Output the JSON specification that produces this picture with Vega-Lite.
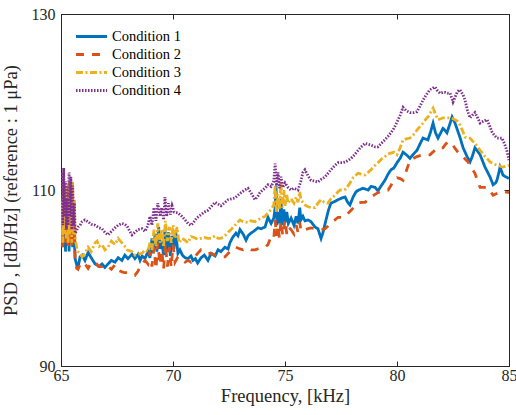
{
"$schema":"https://vega.github.io/schema/vega-lite/v6.json",
"width":448,"height":352,
"autosize":{"type":"none"},
"padding":{"left":61,"top":14,"right":7,"bottom":49},
"background":"white",
"config":{"view":{"stroke":"#262626","strokeWidth":1},"font":"Liberation Serif",
"legend":{"labelFont":"Liberation Serif"},
"axis":{"grid":false,"domainColor":"#262626","tickColor":"#262626","labelColor":"#262626","titleColor":"#262626","labelFont":"Liberation Serif","titleFont":"Liberation Serif","labelFontSize":16,"titleFontSize":18.5,"titleFontWeight":"normal","tickSize":-5,"tickWidth":1}},
"datasets":{"psd":[
{"f":65.00,"v":107.5,"c":"Condition 1"},{"f":65.04,"v":103.5,"c":"Condition 1"},{"f":65.08,"v":109.5,"c":"Condition 1"},{"f":65.12,"v":104,"c":"Condition 1"},{"f":65.16,"v":110,"c":"Condition 1"},{"f":65.20,"v":103,"c":"Condition 1"},{"f":65.24,"v":108,"c":"Condition 1"},{"f":65.28,"v":104.5,"c":"Condition 1"},{"f":65.32,"v":110.5,"c":"Condition 1"},{"f":65.36,"v":103,"c":"Condition 1"},{"f":65.40,"v":109.5,"c":"Condition 1"},{"f":65.44,"v":104,"c":"Condition 1"},{"f":65.48,"v":110.5,"c":"Condition 1"},{"f":65.52,"v":103.5,"c":"Condition 1"},{"f":65.56,"v":108,"c":"Condition 1"},{"f":65.60,"v":104,"c":"Condition 1"},{"f":65.63,"v":102.2,"c":"Condition 1"},{"f":65.70,"v":101.5,"c":"Condition 1"},{"f":65.76,"v":101.2,"c":"Condition 1"},{"f":65.85,"v":102.4,"c":"Condition 1"},{"f":65.94,"v":102.6,"c":"Condition 1"},{"f":66.07,"v":102.0,"c":"Condition 1"},{"f":66.21,"v":102.9,"c":"Condition 1"},{"f":66.35,"v":102.3,"c":"Condition 1"},{"f":66.52,"v":101.6,"c":"Condition 1"},{"f":66.70,"v":101.3,"c":"Condition 1"},{"f":66.83,"v":101.6,"c":"Condition 1"},{"f":66.96,"v":101.2,"c":"Condition 1"},{"f":67.10,"v":101.6,"c":"Condition 1"},{"f":67.25,"v":102.0,"c":"Condition 1"},{"f":67.41,"v":101.8,"c":"Condition 1"},{"f":67.55,"v":102.3,"c":"Condition 1"},{"f":67.72,"v":102.0,"c":"Condition 1"},{"f":67.85,"v":102.6,"c":"Condition 1"},{"f":67.99,"v":102.2,"c":"Condition 1"},{"f":68.17,"v":102.7,"c":"Condition 1"},{"f":68.30,"v":102.2,"c":"Condition 1"},{"f":68.44,"v":102.7,"c":"Condition 1"},{"f":68.53,"v":102.0,"c":"Condition 1"},{"f":68.62,"v":102.5,"c":"Condition 1"},{"f":68.75,"v":102.2,"c":"Condition 1"},{"f":68.88,"v":103.0,"c":"Condition 1"},{"f":68.97,"v":102.3,"c":"Condition 1"},{"f":69.06,"v":104.5,"c":"Condition 1"},{"f":69.11,"v":102.8,"c":"Condition 1"},{"f":69.20,"v":105.0,"c":"Condition 1"},{"f":69.28,"v":103.0,"c":"Condition 1"},{"f":69.36,"v":105.8,"c":"Condition 1"},{"f":69.42,"v":103.3,"c":"Condition 1"},{"f":69.50,"v":104.2,"c":"Condition 1"},{"f":69.58,"v":102.6,"c":"Condition 1"},{"f":69.64,"v":105.5,"c":"Condition 1"},{"f":69.72,"v":103.0,"c":"Condition 1"},{"f":69.80,"v":105.2,"c":"Condition 1"},{"f":69.88,"v":102.5,"c":"Condition 1"},{"f":69.96,"v":104.8,"c":"Condition 1"},{"f":70.04,"v":103.3,"c":"Condition 1"},{"f":70.12,"v":105.3,"c":"Condition 1"},{"f":70.22,"v":102.8,"c":"Condition 1"},{"f":70.31,"v":103.2,"c":"Condition 1"},{"f":70.42,"v":102.6,"c":"Condition 1"},{"f":70.54,"v":102.3,"c":"Condition 1"},{"f":70.67,"v":102.2,"c":"Condition 1"},{"f":70.80,"v":102.5,"c":"Condition 1"},{"f":70.89,"v":102.0,"c":"Condition 1"},{"f":71.00,"v":102.2,"c":"Condition 1"},{"f":71.10,"v":101.7,"c":"Condition 1"},{"f":71.25,"v":102.3,"c":"Condition 1"},{"f":71.40,"v":102.6,"c":"Condition 1"},{"f":71.56,"v":102.0,"c":"Condition 1"},{"f":71.70,"v":102.8,"c":"Condition 1"},{"f":71.88,"v":102.5,"c":"Condition 1"},{"f":72.01,"v":103.2,"c":"Condition 1"},{"f":72.14,"v":103.0,"c":"Condition 1"},{"f":72.32,"v":103.5,"c":"Condition 1"},{"f":72.46,"v":103.3,"c":"Condition 1"},{"f":72.54,"v":104.0,"c":"Condition 1"},{"f":72.66,"v":104.6,"c":"Condition 1"},{"f":72.81,"v":105.1,"c":"Condition 1"},{"f":72.90,"v":104.8,"c":"Condition 1"},{"f":72.99,"v":105.5,"c":"Condition 1"},{"f":73.13,"v":105.0,"c":"Condition 1"},{"f":73.26,"v":104.3,"c":"Condition 1"},{"f":73.35,"v":104.8,"c":"Condition 1"},{"f":73.48,"v":105.1,"c":"Condition 1"},{"f":73.60,"v":105.3,"c":"Condition 1"},{"f":73.79,"v":105.7,"c":"Condition 1"},{"f":73.93,"v":105.6,"c":"Condition 1"},{"f":74.11,"v":105.8,"c":"Condition 1"},{"f":74.24,"v":106.9,"c":"Condition 1"},{"f":74.38,"v":106.2,"c":"Condition 1"},{"f":74.50,"v":106.8,"c":"Condition 1"},{"f":74.56,"v":108.0,"c":"Condition 1"},{"f":74.60,"v":110.5,"c":"Condition 1"},{"f":74.64,"v":106.0,"c":"Condition 1"},{"f":74.69,"v":107.5,"c":"Condition 1"},{"f":74.75,"v":106.2,"c":"Condition 1"},{"f":74.82,"v":109.0,"c":"Condition 1"},{"f":74.88,"v":106.0,"c":"Condition 1"},{"f":74.95,"v":107.8,"c":"Condition 1"},{"f":75.00,"v":106.3,"c":"Condition 1"},{"f":75.08,"v":107.5,"c":"Condition 1"},{"f":75.15,"v":106.2,"c":"Condition 1"},{"f":75.27,"v":106.8,"c":"Condition 1"},{"f":75.40,"v":106.0,"c":"Condition 1"},{"f":75.50,"v":107.0,"c":"Condition 1"},{"f":75.58,"v":106.2,"c":"Condition 1"},{"f":75.66,"v":108.0,"c":"Condition 1"},{"f":75.71,"v":106.6,"c":"Condition 1"},{"f":75.80,"v":107.0,"c":"Condition 1"},{"f":75.89,"v":106.5,"c":"Condition 1"},{"f":76.03,"v":106.6,"c":"Condition 1"},{"f":76.16,"v":106.4,"c":"Condition 1"},{"f":76.34,"v":105.8,"c":"Condition 1"},{"f":76.47,"v":105.6,"c":"Condition 1"},{"f":76.61,"v":104.5,"c":"Condition 1"},{"f":76.70,"v":105.2,"c":"Condition 1"},{"f":76.83,"v":106.6,"c":"Condition 1"},{"f":76.95,"v":107.8,"c":"Condition 1"},{"f":77.05,"v":108.5,"c":"Condition 1"},{"f":77.23,"v":108.7,"c":"Condition 1"},{"f":77.37,"v":108.9,"c":"Condition 1"},{"f":77.55,"v":109.1,"c":"Condition 1"},{"f":77.68,"v":109.2,"c":"Condition 1"},{"f":77.80,"v":108.6,"c":"Condition 1"},{"f":77.90,"v":108.3,"c":"Condition 1"},{"f":78.04,"v":109.2,"c":"Condition 1"},{"f":78.17,"v":109.8,"c":"Condition 1"},{"f":78.30,"v":110.0,"c":"Condition 1"},{"f":78.48,"v":110.2,"c":"Condition 1"},{"f":78.60,"v":110.1,"c":"Condition 1"},{"f":78.71,"v":110.0,"c":"Condition 1"},{"f":78.84,"v":110.4,"c":"Condition 1"},{"f":79.02,"v":110.3,"c":"Condition 1"},{"f":79.15,"v":109.9,"c":"Condition 1"},{"f":79.30,"v":110.5,"c":"Condition 1"},{"f":79.46,"v":111.1,"c":"Condition 1"},{"f":79.60,"v":111.8,"c":"Condition 1"},{"f":79.73,"v":112.3,"c":"Condition 1"},{"f":79.86,"v":112.5,"c":"Condition 1"},{"f":80.00,"v":113.1,"c":"Condition 1"},{"f":80.14,"v":113.6,"c":"Condition 1"},{"f":80.27,"v":114.3,"c":"Condition 1"},{"f":80.42,"v":114.0,"c":"Condition 1"},{"f":80.58,"v":113.6,"c":"Condition 1"},{"f":80.74,"v":114.1,"c":"Condition 1"},{"f":80.89,"v":114.5,"c":"Condition 1"},{"f":81.02,"v":115.2,"c":"Condition 1"},{"f":81.16,"v":115.9,"c":"Condition 1"},{"f":81.27,"v":115.8,"c":"Condition 1"},{"f":81.38,"v":115.7,"c":"Condition 1"},{"f":81.50,"v":116.6,"c":"Condition 1"},{"f":81.61,"v":117.6,"c":"Condition 1"},{"f":81.72,"v":116.5,"c":"Condition 1"},{"f":81.83,"v":115.9,"c":"Condition 1"},{"f":81.95,"v":116.5,"c":"Condition 1"},{"f":82.05,"v":117.0,"c":"Condition 1"},{"f":82.14,"v":116.8,"c":"Condition 1"},{"f":82.23,"v":116.5,"c":"Condition 1"},{"f":82.36,"v":117.5,"c":"Condition 1"},{"f":82.46,"v":118.3,"c":"Condition 1"},{"f":82.59,"v":117.6,"c":"Condition 1"},{"f":82.70,"v":116.8,"c":"Condition 1"},{"f":82.81,"v":116.0,"c":"Condition 1"},{"f":82.95,"v":114.8,"c":"Condition 1"},{"f":83.13,"v":113.8,"c":"Condition 1"},{"f":83.26,"v":113.2,"c":"Condition 1"},{"f":83.36,"v":113.8,"c":"Condition 1"},{"f":83.48,"v":114.8,"c":"Condition 1"},{"f":83.60,"v":114.4,"c":"Condition 1"},{"f":83.71,"v":114.0,"c":"Condition 1"},{"f":83.82,"v":113.3,"c":"Condition 1"},{"f":83.93,"v":112.6,"c":"Condition 1"},{"f":84.05,"v":112.0,"c":"Condition 1"},{"f":84.15,"v":111.5,"c":"Condition 1"},{"f":84.29,"v":110.6,"c":"Condition 1"},{"f":84.40,"v":110.8,"c":"Condition 1"},{"f":84.46,"v":111.1,"c":"Condition 1"},{"f":84.53,"v":111.8,"c":"Condition 1"},{"f":84.60,"v":112.6,"c":"Condition 1"},{"f":84.66,"v":112.2,"c":"Condition 1"},{"f":84.73,"v":111.7,"c":"Condition 1"},{"f":84.85,"v":111.5,"c":"Condition 1"},{"f":85.00,"v":111.3,"c":"Condition 1"},
{"f":65.00,"v":104.5,"c":"Condition 2"},{"f":65.04,"v":108,"c":"Condition 2"},{"f":65.08,"v":103.5,"c":"Condition 2"},{"f":65.12,"v":110,"c":"Condition 2"},{"f":65.16,"v":104,"c":"Condition 2"},{"f":65.20,"v":109,"c":"Condition 2"},{"f":65.24,"v":103.8,"c":"Condition 2"},{"f":65.28,"v":107,"c":"Condition 2"},{"f":65.32,"v":103.5,"c":"Condition 2"},{"f":65.36,"v":110,"c":"Condition 2"},{"f":65.40,"v":104.3,"c":"Condition 2"},{"f":65.44,"v":109,"c":"Condition 2"},{"f":65.48,"v":103.5,"c":"Condition 2"},{"f":65.52,"v":109.5,"c":"Condition 2"},{"f":65.56,"v":104,"c":"Condition 2"},{"f":65.60,"v":107,"c":"Condition 2"},{"f":65.63,"v":102.0,"c":"Condition 2"},{"f":65.70,"v":101.1,"c":"Condition 2"},{"f":65.76,"v":101.0,"c":"Condition 2"},{"f":65.85,"v":101.5,"c":"Condition 2"},{"f":65.94,"v":101.3,"c":"Condition 2"},{"f":66.07,"v":101.6,"c":"Condition 2"},{"f":66.21,"v":101.1,"c":"Condition 2"},{"f":66.35,"v":101.7,"c":"Condition 2"},{"f":66.52,"v":101.8,"c":"Condition 2"},{"f":66.70,"v":101.3,"c":"Condition 2"},{"f":66.83,"v":101.3,"c":"Condition 2"},{"f":66.96,"v":101.5,"c":"Condition 2"},{"f":67.10,"v":101.3,"c":"Condition 2"},{"f":67.25,"v":101.0,"c":"Condition 2"},{"f":67.41,"v":101.5,"c":"Condition 2"},{"f":67.55,"v":100.9,"c":"Condition 2"},{"f":67.72,"v":100.7,"c":"Condition 2"},{"f":67.85,"v":100.6,"c":"Condition 2"},{"f":67.99,"v":100.6,"c":"Condition 2"},{"f":68.17,"v":100.4,"c":"Condition 2"},{"f":68.30,"v":100.3,"c":"Condition 2"},{"f":68.44,"v":100.8,"c":"Condition 2"},{"f":68.53,"v":101.3,"c":"Condition 2"},{"f":68.62,"v":101.6,"c":"Condition 2"},{"f":68.75,"v":102.0,"c":"Condition 2"},{"f":68.88,"v":101.6,"c":"Condition 2"},{"f":68.97,"v":103.0,"c":"Condition 2"},{"f":69.06,"v":101.3,"c":"Condition 2"},{"f":69.15,"v":103.5,"c":"Condition 2"},{"f":69.24,"v":101.0,"c":"Condition 2"},{"f":69.32,"v":104.0,"c":"Condition 2"},{"f":69.42,"v":101.5,"c":"Condition 2"},{"f":69.50,"v":103.2,"c":"Condition 2"},{"f":69.58,"v":101.0,"c":"Condition 2"},{"f":69.66,"v":104.0,"c":"Condition 2"},{"f":69.75,"v":101.3,"c":"Condition 2"},{"f":69.84,"v":103.5,"c":"Condition 2"},{"f":69.92,"v":101.2,"c":"Condition 2"},{"f":70.00,"v":103.8,"c":"Condition 2"},{"f":70.09,"v":101.8,"c":"Condition 2"},{"f":70.22,"v":102.4,"c":"Condition 2"},{"f":70.40,"v":102.0,"c":"Condition 2"},{"f":70.54,"v":101.8,"c":"Condition 2"},{"f":70.67,"v":102.0,"c":"Condition 2"},{"f":70.80,"v":101.8,"c":"Condition 2"},{"f":70.95,"v":102.3,"c":"Condition 2"},{"f":71.10,"v":102.8,"c":"Condition 2"},{"f":71.25,"v":103.2,"c":"Condition 2"},{"f":71.40,"v":103.0,"c":"Condition 2"},{"f":71.56,"v":102.8,"c":"Condition 2"},{"f":71.70,"v":102.8,"c":"Condition 2"},{"f":71.88,"v":102.6,"c":"Condition 2"},{"f":72.01,"v":102.5,"c":"Condition 2"},{"f":72.14,"v":102.4,"c":"Condition 2"},{"f":72.32,"v":102.4,"c":"Condition 2"},{"f":72.50,"v":102.9,"c":"Condition 2"},{"f":72.66,"v":103.3,"c":"Condition 2"},{"f":72.81,"v":103.5,"c":"Condition 2"},{"f":72.99,"v":103.3,"c":"Condition 2"},{"f":73.13,"v":103.2,"c":"Condition 2"},{"f":73.30,"v":103.4,"c":"Condition 2"},{"f":73.48,"v":103.2,"c":"Condition 2"},{"f":73.66,"v":103.2,"c":"Condition 2"},{"f":73.79,"v":103.3,"c":"Condition 2"},{"f":73.93,"v":103.4,"c":"Condition 2"},{"f":74.11,"v":103.5,"c":"Condition 2"},{"f":74.24,"v":103.8,"c":"Condition 2"},{"f":74.38,"v":104.7,"c":"Condition 2"},{"f":74.50,"v":104.5,"c":"Condition 2"},{"f":74.56,"v":106.6,"c":"Condition 2"},{"f":74.62,"v":104.8,"c":"Condition 2"},{"f":74.69,"v":106.0,"c":"Condition 2"},{"f":74.75,"v":104.5,"c":"Condition 2"},{"f":74.82,"v":106.5,"c":"Condition 2"},{"f":74.90,"v":104.8,"c":"Condition 2"},{"f":75.00,"v":106.6,"c":"Condition 2"},{"f":75.08,"v":105.0,"c":"Condition 2"},{"f":75.15,"v":105.8,"c":"Condition 2"},{"f":75.27,"v":105.5,"c":"Condition 2"},{"f":75.40,"v":105.0,"c":"Condition 2"},{"f":75.50,"v":106.0,"c":"Condition 2"},{"f":75.58,"v":105.2,"c":"Condition 2"},{"f":75.66,"v":106.3,"c":"Condition 2"},{"f":75.71,"v":105.4,"c":"Condition 2"},{"f":75.80,"v":105.6,"c":"Condition 2"},{"f":75.89,"v":105.5,"c":"Condition 2"},{"f":76.03,"v":105.6,"c":"Condition 2"},{"f":76.16,"v":105.7,"c":"Condition 2"},{"f":76.34,"v":105.6,"c":"Condition 2"},{"f":76.47,"v":105.5,"c":"Condition 2"},{"f":76.61,"v":105.5,"c":"Condition 2"},{"f":76.79,"v":105.6,"c":"Condition 2"},{"f":76.92,"v":105.9,"c":"Condition 2"},{"f":77.05,"v":106.3,"c":"Condition 2"},{"f":77.23,"v":106.6,"c":"Condition 2"},{"f":77.37,"v":106.9,"c":"Condition 2"},{"f":77.55,"v":106.9,"c":"Condition 2"},{"f":77.72,"v":107.1,"c":"Condition 2"},{"f":77.95,"v":107.7,"c":"Condition 2"},{"f":78.10,"v":108.1,"c":"Condition 2"},{"f":78.26,"v":108.5,"c":"Condition 2"},{"f":78.40,"v":108.6,"c":"Condition 2"},{"f":78.57,"v":108.6,"c":"Condition 2"},{"f":78.71,"v":108.9,"c":"Condition 2"},{"f":78.84,"v":109.2,"c":"Condition 2"},{"f":79.02,"v":109.5,"c":"Condition 2"},{"f":79.15,"v":109.7,"c":"Condition 2"},{"f":79.30,"v":109.9,"c":"Condition 2"},{"f":79.46,"v":110.0,"c":"Condition 2"},{"f":79.60,"v":110.0,"c":"Condition 2"},{"f":79.73,"v":110.5,"c":"Condition 2"},{"f":79.86,"v":111.2,"c":"Condition 2"},{"f":80.00,"v":111.4,"c":"Condition 2"},{"f":80.14,"v":111.3,"c":"Condition 2"},{"f":80.27,"v":111.1,"c":"Condition 2"},{"f":80.42,"v":112.2,"c":"Condition 2"},{"f":80.58,"v":113.4,"c":"Condition 2"},{"f":80.74,"v":113.6,"c":"Condition 2"},{"f":80.89,"v":113.8,"c":"Condition 2"},{"f":81.02,"v":113.9,"c":"Condition 2"},{"f":81.16,"v":114.0,"c":"Condition 2"},{"f":81.30,"v":114.0,"c":"Condition 2"},{"f":81.47,"v":114.0,"c":"Condition 2"},{"f":81.60,"v":114.3,"c":"Condition 2"},{"f":81.79,"v":114.8,"c":"Condition 2"},{"f":81.95,"v":114.8,"c":"Condition 2"},{"f":82.05,"v":114.8,"c":"Condition 2"},{"f":82.17,"v":115.2,"c":"Condition 2"},{"f":82.28,"v":115.5,"c":"Condition 2"},{"f":82.37,"v":115.3,"c":"Condition 2"},{"f":82.50,"v":115.1,"c":"Condition 2"},{"f":82.60,"v":114.7,"c":"Condition 2"},{"f":82.72,"v":114.3,"c":"Condition 2"},{"f":82.85,"v":114.0,"c":"Condition 2"},{"f":82.95,"v":113.8,"c":"Condition 2"},{"f":83.05,"v":113.5,"c":"Condition 2"},{"f":83.17,"v":113.2,"c":"Condition 2"},{"f":83.30,"v":112.6,"c":"Condition 2"},{"f":83.48,"v":111.9,"c":"Condition 2"},{"f":83.60,"v":111.0,"c":"Condition 2"},{"f":83.71,"v":110.3,"c":"Condition 2"},{"f":83.85,"v":110.3,"c":"Condition 2"},{"f":84.02,"v":110.3,"c":"Condition 2"},{"f":84.15,"v":109.9,"c":"Condition 2"},{"f":84.29,"v":109.4,"c":"Condition 2"},{"f":84.45,"v":109.6,"c":"Condition 2"},{"f":84.60,"v":109.8,"c":"Condition 2"},{"f":84.80,"v":109.8,"c":"Condition 2"},{"f":85.00,"v":109.7,"c":"Condition 2"},
{"f":65.00,"v":106,"c":"Condition 3"},{"f":65.04,"v":109,"c":"Condition 3"},{"f":65.08,"v":104,"c":"Condition 3"},{"f":65.12,"v":111,"c":"Condition 3"},{"f":65.16,"v":105,"c":"Condition 3"},{"f":65.20,"v":110.5,"c":"Condition 3"},{"f":65.24,"v":104.5,"c":"Condition 3"},{"f":65.28,"v":108,"c":"Condition 3"},{"f":65.32,"v":104,"c":"Condition 3"},{"f":65.36,"v":111,"c":"Condition 3"},{"f":65.40,"v":105,"c":"Condition 3"},{"f":65.44,"v":110,"c":"Condition 3"},{"f":65.48,"v":104,"c":"Condition 3"},{"f":65.52,"v":111,"c":"Condition 3"},{"f":65.56,"v":105,"c":"Condition 3"},{"f":65.60,"v":109,"c":"Condition 3"},{"f":65.63,"v":104.5,"c":"Condition 3"},{"f":65.70,"v":103.5,"c":"Condition 3"},{"f":65.76,"v":103.0,"c":"Condition 3"},{"f":65.85,"v":102.8,"c":"Condition 3"},{"f":65.94,"v":102.4,"c":"Condition 3"},{"f":66.07,"v":102.8,"c":"Condition 3"},{"f":66.21,"v":103.5,"c":"Condition 3"},{"f":66.35,"v":103.0,"c":"Condition 3"},{"f":66.52,"v":104.0,"c":"Condition 3"},{"f":66.61,"v":104.2,"c":"Condition 3"},{"f":66.70,"v":103.6,"c":"Condition 3"},{"f":66.83,"v":103.8,"c":"Condition 3"},{"f":66.96,"v":103.2,"c":"Condition 3"},{"f":67.10,"v":103.5,"c":"Condition 3"},{"f":67.25,"v":104.2,"c":"Condition 3"},{"f":67.41,"v":103.8,"c":"Condition 3"},{"f":67.55,"v":104.5,"c":"Condition 3"},{"f":67.72,"v":104.0,"c":"Condition 3"},{"f":67.85,"v":103.6,"c":"Condition 3"},{"f":67.95,"v":103.2,"c":"Condition 3"},{"f":68.17,"v":103.0,"c":"Condition 3"},{"f":68.30,"v":102.6,"c":"Condition 3"},{"f":68.44,"v":102.7,"c":"Condition 3"},{"f":68.62,"v":102.8,"c":"Condition 3"},{"f":68.75,"v":103.2,"c":"Condition 3"},{"f":68.88,"v":103.0,"c":"Condition 3"},{"f":68.97,"v":104.0,"c":"Condition 3"},{"f":69.06,"v":103.2,"c":"Condition 3"},{"f":69.15,"v":105.5,"c":"Condition 3"},{"f":69.24,"v":103.6,"c":"Condition 3"},{"f":69.32,"v":106.2,"c":"Condition 3"},{"f":69.42,"v":104.0,"c":"Condition 3"},{"f":69.50,"v":105.5,"c":"Condition 3"},{"f":69.58,"v":103.5,"c":"Condition 3"},{"f":69.66,"v":106.5,"c":"Condition 3"},{"f":69.75,"v":104.2,"c":"Condition 3"},{"f":69.84,"v":105.8,"c":"Condition 3"},{"f":69.92,"v":104.0,"c":"Condition 3"},{"f":70.00,"v":106.0,"c":"Condition 3"},{"f":70.09,"v":104.5,"c":"Condition 3"},{"f":70.18,"v":105.8,"c":"Condition 3"},{"f":70.27,"v":104.0,"c":"Condition 3"},{"f":70.40,"v":104.5,"c":"Condition 3"},{"f":70.54,"v":104.3,"c":"Condition 3"},{"f":70.67,"v":104.0,"c":"Condition 3"},{"f":70.80,"v":104.7,"c":"Condition 3"},{"f":70.95,"v":104.6,"c":"Condition 3"},{"f":71.10,"v":104.4,"c":"Condition 3"},{"f":71.25,"v":104.5,"c":"Condition 3"},{"f":71.40,"v":104.6,"c":"Condition 3"},{"f":71.56,"v":104.5,"c":"Condition 3"},{"f":71.70,"v":104.5,"c":"Condition 3"},{"f":71.88,"v":104.8,"c":"Condition 3"},{"f":72.01,"v":104.5,"c":"Condition 3"},{"f":72.14,"v":104.5,"c":"Condition 3"},{"f":72.32,"v":104.8,"c":"Condition 3"},{"f":72.46,"v":105.2,"c":"Condition 3"},{"f":72.59,"v":105.5,"c":"Condition 3"},{"f":72.77,"v":106.0,"c":"Condition 3"},{"f":72.99,"v":106.6,"c":"Condition 3"},{"f":73.13,"v":106.4,"c":"Condition 3"},{"f":73.35,"v":106.3,"c":"Condition 3"},{"f":73.48,"v":106.5,"c":"Condition 3"},{"f":73.66,"v":106.4,"c":"Condition 3"},{"f":73.79,"v":106.6,"c":"Condition 3"},{"f":73.93,"v":106.8,"c":"Condition 3"},{"f":74.11,"v":107.0,"c":"Condition 3"},{"f":74.24,"v":107.4,"c":"Condition 3"},{"f":74.38,"v":107.8,"c":"Condition 3"},{"f":74.50,"v":108.3,"c":"Condition 3"},{"f":74.56,"v":110.5,"c":"Condition 3"},{"f":74.62,"v":107.5,"c":"Condition 3"},{"f":74.69,"v":109.5,"c":"Condition 3"},{"f":74.75,"v":107.8,"c":"Condition 3"},{"f":74.82,"v":111.0,"c":"Condition 3"},{"f":74.88,"v":108.0,"c":"Condition 3"},{"f":74.95,"v":110.0,"c":"Condition 3"},{"f":75.00,"v":108.2,"c":"Condition 3"},{"f":75.08,"v":109.5,"c":"Condition 3"},{"f":75.13,"v":108.5,"c":"Condition 3"},{"f":75.27,"v":109.0,"c":"Condition 3"},{"f":75.40,"v":108.5,"c":"Condition 3"},{"f":75.50,"v":109.2,"c":"Condition 3"},{"f":75.58,"v":108.6,"c":"Condition 3"},{"f":75.66,"v":109.8,"c":"Condition 3"},{"f":75.71,"v":108.9,"c":"Condition 3"},{"f":75.80,"v":108.6,"c":"Condition 3"},{"f":75.89,"v":108.3,"c":"Condition 3"},{"f":76.03,"v":108.1,"c":"Condition 3"},{"f":76.16,"v":108.0,"c":"Condition 3"},{"f":76.34,"v":108.0,"c":"Condition 3"},{"f":76.47,"v":108.5,"c":"Condition 3"},{"f":76.61,"v":108.9,"c":"Condition 3"},{"f":76.75,"v":108.6,"c":"Condition 3"},{"f":76.92,"v":108.5,"c":"Condition 3"},{"f":77.05,"v":109.0,"c":"Condition 3"},{"f":77.23,"v":109.4,"c":"Condition 3"},{"f":77.37,"v":109.8,"c":"Condition 3"},{"f":77.46,"v":110.0,"c":"Condition 3"},{"f":77.60,"v":110.0,"c":"Condition 3"},{"f":77.72,"v":110.1,"c":"Condition 3"},{"f":77.90,"v":110.8,"c":"Condition 3"},{"f":78.04,"v":111.4,"c":"Condition 3"},{"f":78.17,"v":111.7,"c":"Condition 3"},{"f":78.26,"v":111.9,"c":"Condition 3"},{"f":78.40,"v":111.8,"c":"Condition 3"},{"f":78.57,"v":111.7,"c":"Condition 3"},{"f":78.71,"v":112.0,"c":"Condition 3"},{"f":78.84,"v":112.3,"c":"Condition 3"},{"f":79.02,"v":112.8,"c":"Condition 3"},{"f":79.15,"v":113.1,"c":"Condition 3"},{"f":79.30,"v":113.5,"c":"Condition 3"},{"f":79.46,"v":113.8,"c":"Condition 3"},{"f":79.60,"v":114.1,"c":"Condition 3"},{"f":79.73,"v":114.2,"c":"Condition 3"},{"f":79.86,"v":114.3,"c":"Condition 3"},{"f":80.00,"v":114.0,"c":"Condition 3"},{"f":80.14,"v":114.8,"c":"Condition 3"},{"f":80.27,"v":115.7,"c":"Condition 3"},{"f":80.42,"v":115.8,"c":"Condition 3"},{"f":80.58,"v":115.9,"c":"Condition 3"},{"f":80.74,"v":116.3,"c":"Condition 3"},{"f":80.89,"v":116.8,"c":"Condition 3"},{"f":81.02,"v":117.2,"c":"Condition 3"},{"f":81.16,"v":117.6,"c":"Condition 3"},{"f":81.27,"v":118.0,"c":"Condition 3"},{"f":81.38,"v":118.3,"c":"Condition 3"},{"f":81.50,"v":118.8,"c":"Condition 3"},{"f":81.61,"v":119.3,"c":"Condition 3"},{"f":81.72,"v":118.6,"c":"Condition 3"},{"f":81.83,"v":118.0,"c":"Condition 3"},{"f":81.95,"v":118.1,"c":"Condition 3"},{"f":82.05,"v":118.2,"c":"Condition 3"},{"f":82.20,"v":118.2,"c":"Condition 3"},{"f":82.37,"v":118.2,"c":"Condition 3"},{"f":82.50,"v":118.1,"c":"Condition 3"},{"f":82.59,"v":118.0,"c":"Condition 3"},{"f":82.70,"v":117.8,"c":"Condition 3"},{"f":82.81,"v":117.4,"c":"Condition 3"},{"f":82.95,"v":116.6,"c":"Condition 3"},{"f":83.04,"v":116.0,"c":"Condition 3"},{"f":83.15,"v":115.9,"c":"Condition 3"},{"f":83.26,"v":115.9,"c":"Condition 3"},{"f":83.36,"v":115.6,"c":"Condition 3"},{"f":83.48,"v":115.3,"c":"Condition 3"},{"f":83.60,"v":114.9,"c":"Condition 3"},{"f":83.71,"v":114.5,"c":"Condition 3"},{"f":83.82,"v":114.2,"c":"Condition 3"},{"f":83.93,"v":113.8,"c":"Condition 3"},{"f":84.05,"v":113.5,"c":"Condition 3"},{"f":84.15,"v":113.2,"c":"Condition 3"},{"f":84.30,"v":113.0,"c":"Condition 3"},{"f":84.46,"v":112.8,"c":"Condition 3"},{"f":84.60,"v":112.7,"c":"Condition 3"},{"f":84.73,"v":112.6,"c":"Condition 3"},{"f":84.85,"v":112.7,"c":"Condition 3"},{"f":85.00,"v":112.8,"c":"Condition 3"},
{"f":65.00,"v":109,"c":"Condition 4"},{"f":65.04,"v":112,"c":"Condition 4"},{"f":65.08,"v":106,"c":"Condition 4"},{"f":65.12,"v":112.5,"c":"Condition 4"},{"f":65.16,"v":107,"c":"Condition 4"},{"f":65.20,"v":111,"c":"Condition 4"},{"f":65.24,"v":105.5,"c":"Condition 4"},{"f":65.28,"v":109,"c":"Condition 4"},{"f":65.32,"v":106,"c":"Condition 4"},{"f":65.36,"v":112,"c":"Condition 4"},{"f":65.40,"v":107,"c":"Condition 4"},{"f":65.44,"v":111.5,"c":"Condition 4"},{"f":65.48,"v":105.5,"c":"Condition 4"},{"f":65.52,"v":110.5,"c":"Condition 4"},{"f":65.56,"v":106,"c":"Condition 4"},{"f":65.60,"v":108.5,"c":"Condition 4"},{"f":65.63,"v":105.1,"c":"Condition 4"},{"f":65.70,"v":105.4,"c":"Condition 4"},{"f":65.76,"v":105.8,"c":"Condition 4"},{"f":65.85,"v":106.0,"c":"Condition 4"},{"f":65.94,"v":106.4,"c":"Condition 4"},{"f":66.07,"v":106.6,"c":"Condition 4"},{"f":66.21,"v":106.4,"c":"Condition 4"},{"f":66.35,"v":106.1,"c":"Condition 4"},{"f":66.52,"v":106.0,"c":"Condition 4"},{"f":66.70,"v":105.7,"c":"Condition 4"},{"f":66.83,"v":105.6,"c":"Condition 4"},{"f":66.96,"v":105.2,"c":"Condition 4"},{"f":67.10,"v":104.9,"c":"Condition 4"},{"f":67.25,"v":105.3,"c":"Condition 4"},{"f":67.41,"v":105.7,"c":"Condition 4"},{"f":67.55,"v":106.0,"c":"Condition 4"},{"f":67.72,"v":106.2,"c":"Condition 4"},{"f":67.85,"v":106.1,"c":"Condition 4"},{"f":67.95,"v":105.9,"c":"Condition 4"},{"f":68.05,"v":105.4,"c":"Condition 4"},{"f":68.17,"v":104.9,"c":"Condition 4"},{"f":68.30,"v":105.2,"c":"Condition 4"},{"f":68.44,"v":105.5,"c":"Condition 4"},{"f":68.62,"v":105.6,"c":"Condition 4"},{"f":68.75,"v":105.3,"c":"Condition 4"},{"f":68.88,"v":106.0,"c":"Condition 4"},{"f":68.97,"v":107.0,"c":"Condition 4"},{"f":69.06,"v":106.0,"c":"Condition 4"},{"f":69.15,"v":108.0,"c":"Condition 4"},{"f":69.24,"v":106.5,"c":"Condition 4"},{"f":69.32,"v":108.5,"c":"Condition 4"},{"f":69.42,"v":107.0,"c":"Condition 4"},{"f":69.50,"v":108.0,"c":"Condition 4"},{"f":69.58,"v":106.6,"c":"Condition 4"},{"f":69.64,"v":109.2,"c":"Condition 4"},{"f":69.72,"v":107.0,"c":"Condition 4"},{"f":69.80,"v":108.5,"c":"Condition 4"},{"f":69.88,"v":107.2,"c":"Condition 4"},{"f":69.96,"v":108.2,"c":"Condition 4"},{"f":70.05,"v":107.5,"c":"Condition 4"},{"f":70.22,"v":107.4,"c":"Condition 4"},{"f":70.40,"v":107.0,"c":"Condition 4"},{"f":70.54,"v":106.6,"c":"Condition 4"},{"f":70.67,"v":106.2,"c":"Condition 4"},{"f":70.80,"v":106.0,"c":"Condition 4"},{"f":70.89,"v":106.2,"c":"Condition 4"},{"f":71.05,"v":106.8,"c":"Condition 4"},{"f":71.25,"v":107.2,"c":"Condition 4"},{"f":71.40,"v":107.5,"c":"Condition 4"},{"f":71.56,"v":107.7,"c":"Condition 4"},{"f":71.70,"v":108.1,"c":"Condition 4"},{"f":71.88,"v":108.6,"c":"Condition 4"},{"f":72.01,"v":108.4,"c":"Condition 4"},{"f":72.14,"v":108.2,"c":"Condition 4"},{"f":72.32,"v":108.6,"c":"Condition 4"},{"f":72.46,"v":108.9,"c":"Condition 4"},{"f":72.62,"v":109.0,"c":"Condition 4"},{"f":72.77,"v":109.1,"c":"Condition 4"},{"f":72.90,"v":109.4,"c":"Condition 4"},{"f":73.04,"v":109.7,"c":"Condition 4"},{"f":73.20,"v":110.0,"c":"Condition 4"},{"f":73.35,"v":110.2,"c":"Condition 4"},{"f":73.50,"v":109.6,"c":"Condition 4"},{"f":73.66,"v":108.9,"c":"Condition 4"},{"f":73.79,"v":109.3,"c":"Condition 4"},{"f":73.88,"v":109.7,"c":"Condition 4"},{"f":74.00,"v":110.0,"c":"Condition 4"},{"f":74.11,"v":110.2,"c":"Condition 4"},{"f":74.24,"v":110.6,"c":"Condition 4"},{"f":74.38,"v":110.4,"c":"Condition 4"},{"f":74.50,"v":111.0,"c":"Condition 4"},{"f":74.56,"v":113.0,"c":"Condition 4"},{"f":74.62,"v":110.5,"c":"Condition 4"},{"f":74.69,"v":112.0,"c":"Condition 4"},{"f":74.75,"v":110.2,"c":"Condition 4"},{"f":74.82,"v":111.5,"c":"Condition 4"},{"f":74.90,"v":110.3,"c":"Condition 4"},{"f":75.00,"v":110.8,"c":"Condition 4"},{"f":75.13,"v":110.3,"c":"Condition 4"},{"f":75.27,"v":110.0,"c":"Condition 4"},{"f":75.40,"v":110.2,"c":"Condition 4"},{"f":75.58,"v":110.0,"c":"Condition 4"},{"f":75.71,"v":111.0,"c":"Condition 4"},{"f":75.80,"v":112.0,"c":"Condition 4"},{"f":75.89,"v":112.3,"c":"Condition 4"},{"f":76.03,"v":111.6,"c":"Condition 4"},{"f":76.16,"v":111.1,"c":"Condition 4"},{"f":76.34,"v":111.0,"c":"Condition 4"},{"f":76.47,"v":110.9,"c":"Condition 4"},{"f":76.61,"v":111.2,"c":"Condition 4"},{"f":76.79,"v":111.5,"c":"Condition 4"},{"f":76.92,"v":111.9,"c":"Condition 4"},{"f":77.05,"v":112.3,"c":"Condition 4"},{"f":77.23,"v":112.8,"c":"Condition 4"},{"f":77.37,"v":113.1,"c":"Condition 4"},{"f":77.55,"v":113.1,"c":"Condition 4"},{"f":77.72,"v":113.2,"c":"Condition 4"},{"f":77.95,"v":113.6,"c":"Condition 4"},{"f":78.10,"v":114.0,"c":"Condition 4"},{"f":78.26,"v":114.5,"c":"Condition 4"},{"f":78.40,"v":114.9,"c":"Condition 4"},{"f":78.57,"v":115.3,"c":"Condition 4"},{"f":78.71,"v":115.2,"c":"Condition 4"},{"f":78.84,"v":115.1,"c":"Condition 4"},{"f":79.02,"v":114.9,"c":"Condition 4"},{"f":79.15,"v":114.9,"c":"Condition 4"},{"f":79.30,"v":115.3,"c":"Condition 4"},{"f":79.46,"v":115.7,"c":"Condition 4"},{"f":79.60,"v":116.1,"c":"Condition 4"},{"f":79.73,"v":116.5,"c":"Condition 4"},{"f":79.86,"v":117.0,"c":"Condition 4"},{"f":80.00,"v":117.7,"c":"Condition 4"},{"f":80.14,"v":118.5,"c":"Condition 4"},{"f":80.27,"v":119.4,"c":"Condition 4"},{"f":80.42,"v":119.0,"c":"Condition 4"},{"f":80.58,"v":118.8,"c":"Condition 4"},{"f":80.74,"v":118.8,"c":"Condition 4"},{"f":80.89,"v":118.9,"c":"Condition 4"},{"f":81.02,"v":119.5,"c":"Condition 4"},{"f":81.16,"v":120.2,"c":"Condition 4"},{"f":81.30,"v":120.8,"c":"Condition 4"},{"f":81.47,"v":121.4,"c":"Condition 4"},{"f":81.61,"v":121.6,"c":"Condition 4"},{"f":81.70,"v":121.7,"c":"Condition 4"},{"f":81.80,"v":121.3,"c":"Condition 4"},{"f":81.92,"v":121.0,"c":"Condition 4"},{"f":82.05,"v":121.1,"c":"Condition 4"},{"f":82.14,"v":121.1,"c":"Condition 4"},{"f":82.25,"v":121.0,"c":"Condition 4"},{"f":82.37,"v":121.0,"c":"Condition 4"},{"f":82.50,"v":120.0,"c":"Condition 4"},{"f":82.60,"v":120.6,"c":"Condition 4"},{"f":82.70,"v":121.2,"c":"Condition 4"},{"f":82.81,"v":121.4,"c":"Condition 4"},{"f":82.95,"v":120.8,"c":"Condition 4"},{"f":83.04,"v":120.2,"c":"Condition 4"},{"f":83.15,"v":119.0,"c":"Condition 4"},{"f":83.26,"v":118.2,"c":"Condition 4"},{"f":83.36,"v":118.5,"c":"Condition 4"},{"f":83.48,"v":118.8,"c":"Condition 4"},{"f":83.60,"v":118.2,"c":"Condition 4"},{"f":83.71,"v":117.6,"c":"Condition 4"},{"f":83.85,"v":117.8,"c":"Condition 4"},{"f":84.02,"v":118.0,"c":"Condition 4"},{"f":84.15,"v":117.2,"c":"Condition 4"},{"f":84.24,"v":116.6,"c":"Condition 4"},{"f":84.35,"v":116.2,"c":"Condition 4"},{"f":84.46,"v":115.9,"c":"Condition 4"},{"f":84.60,"v":115.9,"c":"Condition 4"},{"f":84.69,"v":115.9,"c":"Condition 4"},{"f":84.82,"v":115.1,"c":"Condition 4"},{"f":84.90,"v":114.5,"c":"Condition 4"},{"f":85.00,"v":113.4,"c":"Condition 4"}
]},
"data":{"name":"psd"},
"layer":[
{"mark":{"type":"line","strokeWidth":2.8,"clip":true},
 "encoding":{
  "x":{"field":"f","type":"quantitative","scale":{"domain":[65,85],"nice":false,"zero":false},
       "axis":{"orient":"bottom","values":[65,70,75,80,85],"title":"Frequency, [kHz]","labelPadding":6,"titlePadding":3,"labelFlush":false}},
  "y":{"field":"v","type":"quantitative","scale":{"domain":[90,130],"nice":false,"zero":false},
       "axis":{"orient":"left","values":[90,110,130],"title":"PSD , [dB/Hz] (reference : 1 μPa)","labelPadding":11,"titlePadding":11,"labelFlush":false}},
  "color":{"field":"c","type":"nominal","scale":{"domain":["Condition 1","Condition 2","Condition 3","Condition 4"],"range":["#0072BD","#D95319","#EDB120","#7E2F8E"]},
       "legend":{"title":null,"orient":"none","legendX":19,"legendY":11,"symbolType":"M-1.55,0H1.55","symbolSize":400,"symbolStrokeWidth":2.8,"labelFont":"Liberation Serif","labelFontSize":14.5,"labelColor":"#000000","rowPadding":0,"labelOffset":9}},
  "strokeDash":{"field":"c","type":"nominal","scale":{"domain":["Condition 1","Condition 2","Condition 3","Condition 4"],"range":[[1,0],[8,8],[7,2.5,2,2.5],[1.5,1.5]]},
       "legend":{"title":null,"orient":"none","legendX":19,"legendY":11,"symbolType":"M-1.55,0H1.55","symbolSize":400,"symbolStrokeWidth":2.8,"labelFont":"Liberation Serif","labelFontSize":14.5,"labelColor":"#000000","rowPadding":0,"labelOffset":9}}
 }},
{"mark":{"type":"point","opacity":0},
 "encoding":{
  "x":{"field":"f","type":"quantitative","axis":{"orient":"top","values":[65,70,75,80,85],"labels":false,"title":null}},
  "y":{"field":"v","type":"quantitative","axis":{"orient":"right","values":[90,110,130],"labels":false,"title":null}}
 }}
],
"resolve":{"axis":{"x":"independent","y":"independent"}}
}
